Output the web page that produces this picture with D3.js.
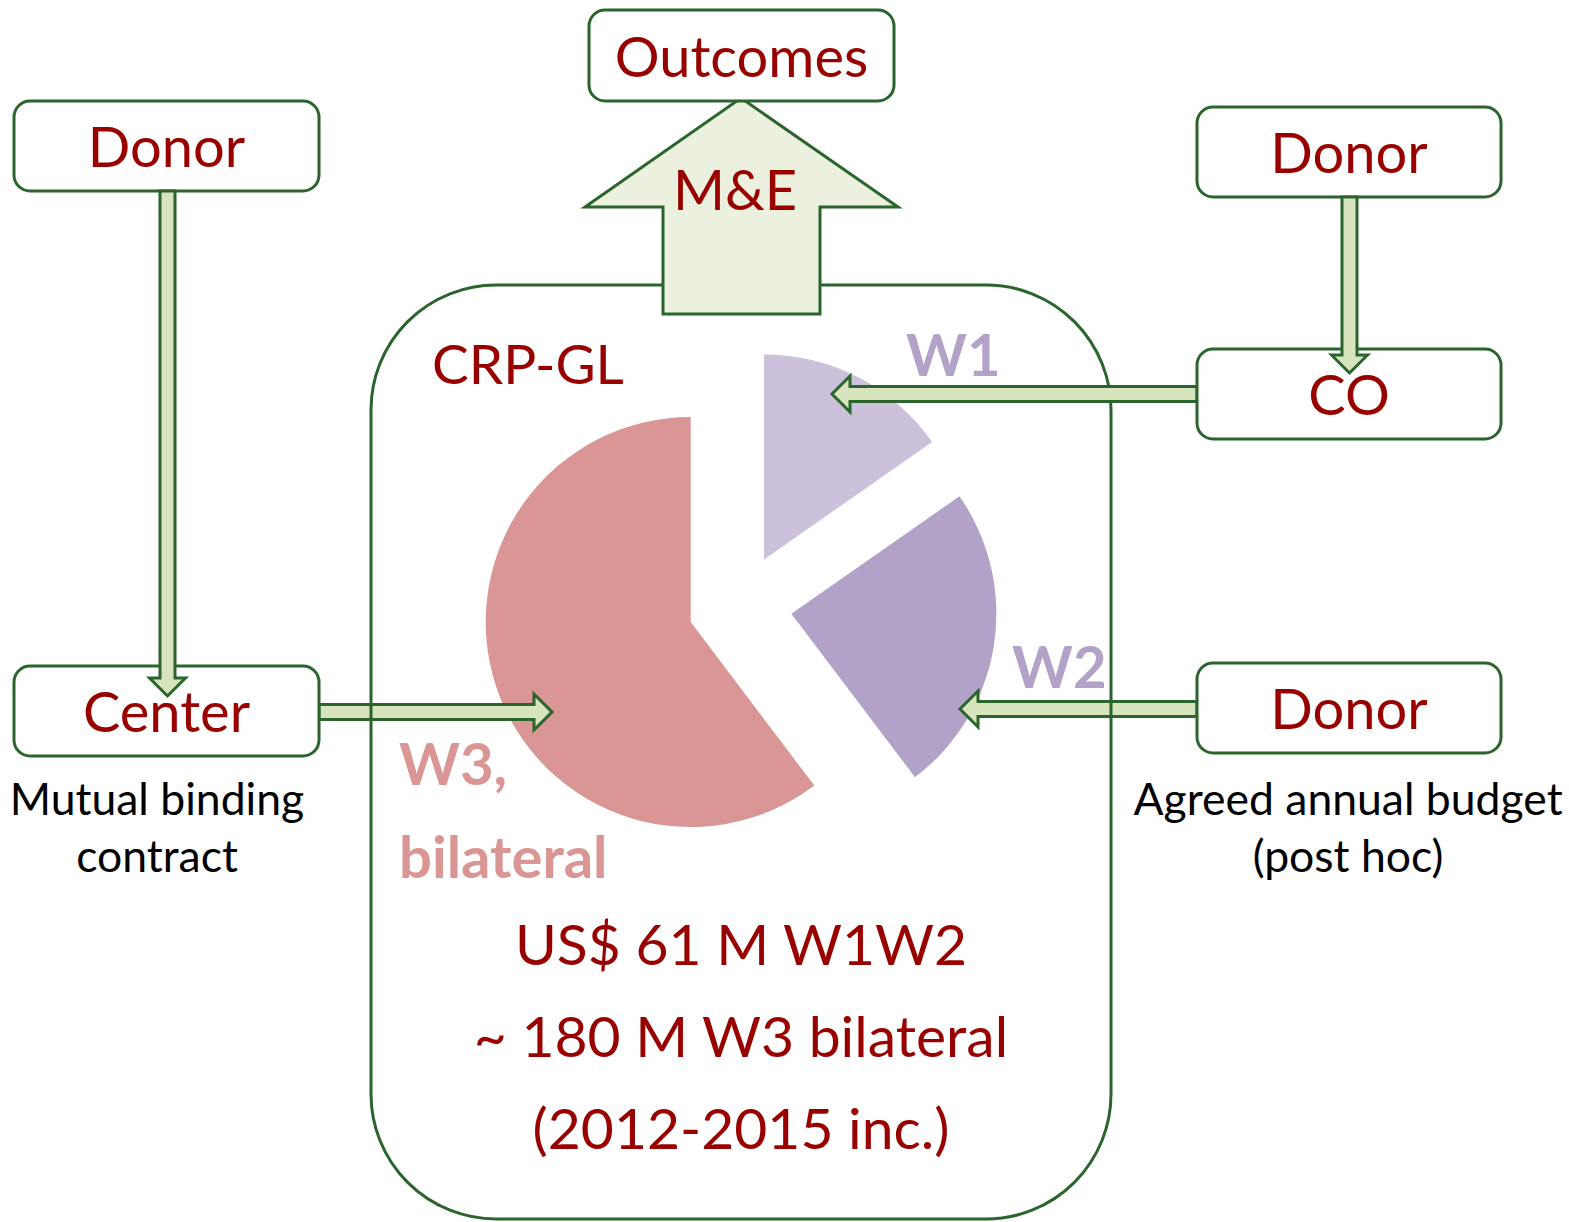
<!DOCTYPE html>
<html>
<head>
<meta charset="utf-8">
<script src="https://cdn.jsdelivr.net/npm/d3@7"></script>
<style>
  html, body { margin: 0; padding: 0; background: #fff; }
  text { font-family: Lato, "Open Sans", sans-serif; }
</style>
</head>
<body>
<div id="chart"></div>
<script>
// funding windows of the CRP (share of the pie)
const sliceNames = ["W1", "W2", "W3"]
const sliceShares = [15.3, 24.4, 60.3]
const sliceColors = ["#ccc1da", "#b3a2c7", "#d99694"]

const boxLabels = ["Outcomes", "Donor", "Donor", "CO", "Center", "Donor"]
const noteLines = [["Mutual binding", "contract"], ["Agreed annual budget", "(post hoc)"]]
const totalLines = ["US$ 61 M W1W2", "~ 180 M W3 bilateral", "(2012-2015 inc.)"]

const width = 1569, height = 1222
const green = "#2b652d", darkRed = "#990000", arrowFill = "#d7e4bd"

let svg = d3.select("#chart")
    .append("svg")
    .attr("width", width)
    .attr("height", height)

// box positions
let boxes = [
    {x: 589, y: 10, w: 305, h: 91},
    {x: 14, y: 101, w: 305, h: 90},
    {x: 1197, y: 107, w: 304, h: 90},
    {x: 1197, y: 349, w: 304, h: 90},
    {x: 14, y: 666, w: 305, h: 90},
    {x: 1197, y: 663, w: 304, h: 90}
]
boxes.forEach(function(b, i) { b.label = boxLabels[i] })

// block arrow as a polygon from (x1,y1) to tip (x2,y2)
function arrowPath(x1, y1, x2, y2, shaft, head, headLen) {
    let dx = x2 - x1, dy = y2 - y1
    let len = Math.sqrt(dx * dx + dy * dy)
    let ux = dx / len, uy = dy / len
    let nx = -uy, ny = ux
    let bx = x2 - ux * headLen, by = y2 - uy * headLen
    let pts = [
        [x1 + nx * shaft / 2, y1 + ny * shaft / 2],
        [bx + nx * shaft / 2, by + ny * shaft / 2],
        [bx + nx * head / 2, by + ny * head / 2],
        [x2, y2],
        [bx - nx * head / 2, by - ny * head / 2],
        [bx - nx * shaft / 2, by - ny * shaft / 2],
        [x1 - nx * shaft / 2, y1 - ny * shaft / 2]
    ]
    return "M" + pts.map(function(p) { return p.join(",") }).join("L") + "Z"
}

function drawArrow(a) {
    svg.append("path")
        .attr("d", arrowPath(a[0], a[1], a[2], a[3], 15, 36, 18))
        .attr("fill", arrowFill)
        .attr("stroke", green)
        .attr("stroke-width", 3)
        .attr("stroke-linejoin", "miter")
}

// pie
let pie = d3.pie().sort(null).value(function(d) { return d })
let arcs = pie(sliceShares)
let radius = 205, explode = 52
let cx = 740, cy = 605.5
let arc = d3.arc().innerRadius(0).outerRadius(radius)

svg.append("g")
    .selectAll("path")
    .data(arcs)
    .enter()
    .append("path")
    .attr("d", arc)
    .attr("fill", function(d, i) { return sliceColors[i] })
    .attr("transform", function(d) {
        let mid = (d.startAngle + d.endAngle) / 2
        return `translate(${cx + Math.sin(mid) * explode}, ${cy - Math.cos(mid) * explode})`
    })

// arrows that sit under the CRP outline
drawArrow([319, 712, 552, 712])
drawArrow([1197, 709, 960, 709])

// CRP outline
svg.append("rect")
    .attr("x", 371).attr("y", 285)
    .attr("width", 740).attr("height", 934)
    .attr("rx", 125).attr("ry", 125)
    .attr("fill", "none")
    .attr("stroke", green)
    .attr("stroke-width", 3)

drawArrow([1197, 394, 832, 394])

// M&E arrow
let me = [[741, 98], [898, 207], [820, 207], [820, 314], [663, 314], [663, 207], [585, 207]]
svg.append("path")
    .attr("d", "M" + me.map(function(p) { return p.join(",") }).join("L") + "Z")
    .attr("fill", "#ebf1de")
    .attr("stroke", green)
    .attr("stroke-width", 3)

// boxes
let box = svg.append("g")
    .selectAll("g")
    .data(boxes)
    .enter()
    .append("g")

box.append("rect")
    .attr("x", function(d) { return d.x })
    .attr("y", function(d) { return d.y })
    .attr("width", function(d) { return d.w })
    .attr("height", function(d) { return d.h })
    .attr("rx", 16).attr("ry", 16)
    .attr("fill", "#fff")
    .attr("stroke", green)
    .attr("stroke-width", 3)

box.append("text")
    .text(function(d) { return d.label })
    .attr("x", function(d) { return d.x + d.w / 2 })
    .attr("y", function(d) { return d.y + d.h / 2 + 21 })
    .attr("text-anchor", "middle")
    .style("font-size", "56px")
    .attr("fill", darkRed)

drawArrow([167.5, 191, 167.5, 696])
drawArrow([1349.5, 197, 1349.5, 373])

// labels
svg.append("text")
    .text("M&E")
    .attr("x", 735).attr("y", 210)
    .attr("text-anchor", "middle")
    .style("font-size", "56px")
    .attr("fill", darkRed)

svg.append("text")
    .text("CRP-GL")
    .attr("x", 432).attr("y", 384)
    .style("font-size", "55px")
    .attr("fill", darkRed)

let windowLabels = [
    {x: 906, y: 376, lines: [sliceNames[0]], color: sliceColors[1]},
    {x: 1012, y: 688, lines: [sliceNames[1]], color: sliceColors[1]},
    {x: 399, y: 785, lines: [sliceNames[2] + ",", "bilateral"], color: sliceColors[2]}
]
windowLabels.forEach(function(w) {
    w.lines.forEach(function(t, j) {
        svg.append("text")
            .text(t)
            .attr("x", w.x).attr("y", w.y + j * 93)
            .style("font-size", "58px")
            .style("font-weight", "bold")
            .attr("fill", w.color)
    })
})

let notePos = [[157, 815], [1348, 815]]
noteLines.forEach(function(lines, i) {
    lines.forEach(function(t, j) {
        svg.append("text")
            .text(t)
            .attr("x", notePos[i][0]).attr("y", notePos[i][1] + j * 57)
            .attr("text-anchor", "middle")
            .style("font-size", "44.5px")
            .attr("fill", "#000")
    })
})

totalLines.forEach(function(t, j) {
    svg.append("text")
        .text(t)
        .attr("x", 741).attr("y", 965 + j * 92)
        .attr("text-anchor", "middle")
        .style("font-size", "57px")
        .attr("fill", darkRed)
})
</script>
</body>
</html>
